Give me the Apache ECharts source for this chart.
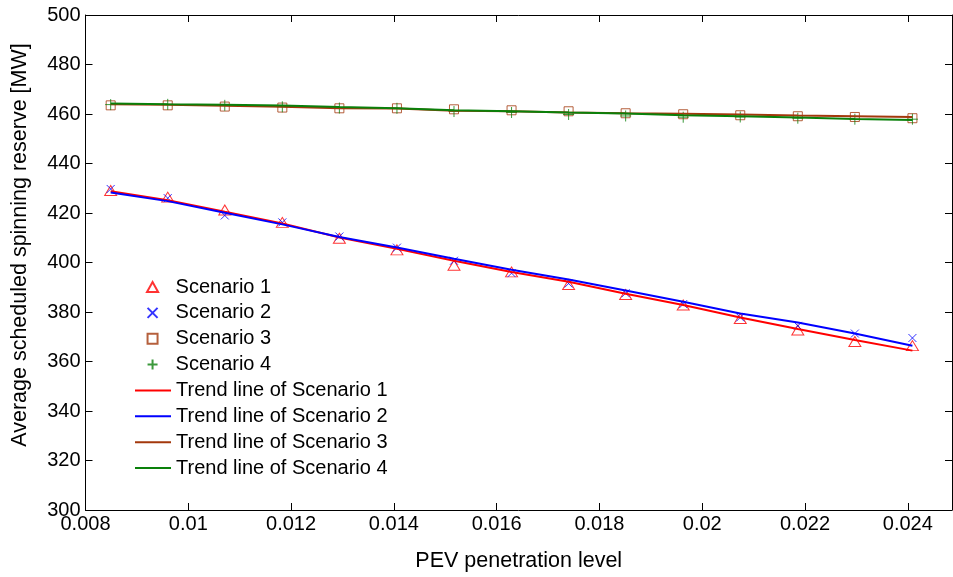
<!DOCTYPE html>
<html>
<head>
<meta charset="utf-8">
<script src="https://cdn.jsdelivr.net/npm/echarts@6/dist/echarts.min.js"></script>
<style>
  html, body { margin: 0; padding: 0; background: #fff; }
  #chart { width: 953px; height: 577px; }
</style>
</head>
<body>
<div id="chart"></div>
<script>
// PEV penetration levels (x positions of the 15 simulated cases)
const penetration = [0.00849, 0.00960, 0.01071, 0.01183, 0.01294, 0.01406, 0.01517, 0.01629,
                     0.01740, 0.01851, 0.01963, 0.02074, 0.02186, 0.02297, 0.02409];

// Average scheduled spinning reserve [MW] per scenario
const scenario1 = [429.1, 426.4, 421.2, 416.2, 409.8, 405.1, 398.9, 396.2, 391.1, 387.1, 382.8, 377.4, 372.7, 368.1, 366.4];
const scenario2 = [429.7, 426.0, 419.0, 416.2, 410.5, 406.0, 400.7, 395.7, 391.5, 387.6, 383.2, 377.8, 374.4, 371.3, 369.5];
const scenario3 = [463.5, 463.5, 463.0, 462.6, 462.3, 462.3, 461.9, 461.5, 461.1, 460.3, 459.9, 459.5, 459.1, 458.8, 458.3];
const scenario4 = [463.8, 463.9, 463.5, 462.9, 462.4, 462.3, 461.0, 460.6, 459.8, 459.2, 458.7, 458.8, 458.3, 457.9, 457.9];

// Trend lines
const trend1 = [428.8, 425.2, 420.5, 415.8, 410.1, 405.5, 400.7, 396.2, 392.2, 387.4, 382.8, 377.8, 373.1, 368.7, 364.4];
const trend2 = [428.3, 424.8, 420.1, 415.4, 410.3, 406.1, 401.5, 397.1, 393.1, 388.7, 384.1, 379.4, 375.8, 371.3, 366.4];
const trend3 = [463.9, 463.7, 463.3, 462.9, 462.3, 462.2, 461.3, 461.1, 460.6, 460.3, 460.1, 459.8, 459.4, 459.1, 458.8];
const trend4 = [464.2, 463.9, 463.7, 463.4, 462.8, 462.3, 461.5, 461.1, 460.6, 460.2, 459.5, 459.1, 458.6, 458.0, 457.6];

const markerNames = ['Scenario 1', 'Scenario 2', 'Scenario 3', 'Scenario 4'];
const trendNames = ['Trend line of Scenario 1', 'Trend line of Scenario 2',
                    'Trend line of Scenario 3', 'Trend line of Scenario 4'];
const xTitle = 'PEV penetration level';
const yTitle = 'Average scheduled spinning reserve [MW]';

const RED = '#ff0000', BLUE = '#0000ff', BROWN = '#a3380c', GREEN = '#0a800a';
const FONT = '"Liberation Sans", Arial, Helvetica, sans-serif';
const TICK_FONT = 20, TITLE_FONT = 21.5;

function pairs(ys) { return penetration.map((x, i) => [x, ys[i]]); }

// Hollow marker outlines (stroke only, like classic plot markers)
const TRI = 'path://M5,0L10,9L0,9Z';
const CROSS = 'path://M0,0L10,10M10,0L0,10';
const SQUARE = 'path://M0,0L10,0L10,10L0,10Z';
const PLUS = 'path://M5,0L5,10M0,5L10,5';

function markerSeries(name, ys, symbol, size, color) {
  return {
    name, type: 'scatter', data: pairs(ys), symbol, symbolSize: size,
    itemStyle: { color: 'transparent', borderColor: color, borderWidth: 1 },
    emphasis: { disabled: true }
  };
}
function trendSeries(name, ys, color) {
  return {
    name, type: 'line', data: pairs(ys), symbol: 'none', showSymbol: false, smooth: false,
    lineStyle: { color, width: 2 }, itemStyle: { color },
    emphasis: { disabled: true }
  };
}

const axisCommon = {
  axisLine: { show: true, onZero: false, lineStyle: { color: '#000', width: 1 } },
  axisTick: { show: true, inside: true, length: 7, lineStyle: { color: '#000' } },
  splitLine: { show: false }
};

const legendText = { fontFamily: FONT, fontSize: TICK_FONT, color: '#000', lineHeight: 20 };
const ROW = 25.86;        // vertical pitch of legend rows
const LEGEND_TOP = 272;

const chart = echarts.init(document.getElementById('chart'), null, { renderer: 'canvas' });
chart.setOption({
  animation: false,
  backgroundColor: '#fff',
  grid: { left: 85.5, right: 1, top: 15, bottom: 63 },
  legend: [
    {
      orient: 'vertical', left: 141, top: LEGEND_TOP,
      itemWidth: 36, itemHeight: 10, itemGap: ROW - 20,
      textStyle: legendText, data: markerNames, selectedMode: false
    },
    {
      orient: 'vertical', left: 130, top: LEGEND_TOP + 4 * ROW,
      itemWidth: 36, itemHeight: 2, itemGap: ROW - 20, icon: 'rect',
      textStyle: legendText, data: trendNames, selectedMode: false
    }
  ],
  graphic: [{
    type: 'text', x: 20, y: 245, rotation: Math.PI / 2,
    style: {
      text: yTitle, font: TITLE_FONT + 'px ' + FONT, fill: '#000',
      align: 'center', verticalAlign: 'middle'
    }
  }],
  xAxis: [
    Object.assign({}, axisCommon, {
      type: 'value', min: 0.008, max: 0.02486, interval: 0.002, position: 'bottom',
      name: xTitle, nameLocation: 'middle', nameGap: 40,
      nameTextStyle: { fontFamily: FONT, fontSize: TITLE_FONT, color: '#000' },
      axisLabel: { fontFamily: FONT, fontSize: TICK_FONT, color: '#000', margin: 4, showMaxLabel: false }
    }),
    Object.assign({}, axisCommon, {
      type: 'value', min: 0.008, max: 0.02486, interval: 0.002, position: 'top',
      axisLabel: { show: false }
    })
  ],
  yAxis: [
    Object.assign({}, axisCommon, {
      type: 'value', min: 300, max: 500, interval: 20, position: 'left',
      axisLabel: { fontFamily: FONT, fontSize: TICK_FONT, color: '#000', margin: 5 }
    }),
    Object.assign({}, axisCommon, {
      type: 'value', min: 300, max: 500, interval: 20, position: 'right',
      axisLabel: { show: false }
    })
  ],
  series: [
    markerSeries(markerNames[0], scenario1, TRI, [12, 10], RED),
    markerSeries(markerNames[1], scenario2, CROSS, 8, BLUE),
    markerSeries(markerNames[2], scenario3, SQUARE, 9, BROWN),
    markerSeries(markerNames[3], scenario4, PLUS, 11, GREEN),
    trendSeries(trendNames[0], trend1, RED),
    trendSeries(trendNames[1], trend2, BLUE),
    trendSeries(trendNames[2], trend3, BROWN),
    trendSeries(trendNames[3], trend4, GREEN)
  ]
});
</script>
</body>
</html>
